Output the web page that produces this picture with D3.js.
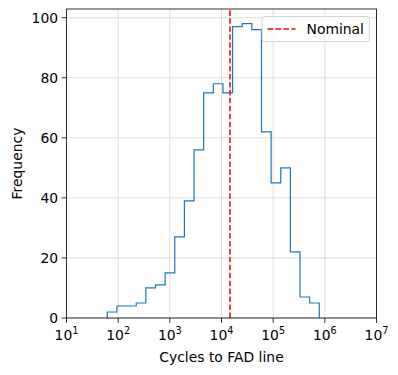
<!DOCTYPE html>
<html>
<head>
<meta charset="utf-8">
<script src="https://cdn.jsdelivr.net/npm/d3@7"></script>
<style>
  body { margin: 0; background: #fff; }
  svg text { font-family: "DejaVu Sans", sans-serif; fill: #000; }
</style>
</head>
<body>
<svg id="chart" width="398" height="375"></svg>
<script>
// histogram counts per log-spaced bin
const counts = [2, 4, 4, 5, 10, 11, 15, 27, 39, 56, 75, 78, 75, 97, 98, 96, 62, 45, 50, 22, 7, 5];
// log10 of first and last bin edge
const logLo = 1.79;
const logHi = 5.893;
const nominal = 14600;
const xTicks = [1, 2, 3, 4, 5, 6, 7];   // exponents
const yTicks = [0, 20, 40, 60, 80, 100];

const W = 398, H = 375;
const m = { left: 66.5, right: W - 376.5, top: 9, bottom: H - 318 };

const svg = d3.select("#chart");

const x = d3.scaleLog().domain([1e1, 1e7]).range([m.left, W - m.right]);
const y = d3.scaleLinear().domain([0, 102.9]).range([H - m.bottom, m.top]);

// bin edges, evenly spaced in log
const step = (logHi - logLo) / counts.length;
const edges = d3.range(counts.length + 1).map(i => Math.pow(10, logLo + i * step));

// grid
const grid = svg.append("g").attr("stroke", "#b0b0b0").attr("stroke-opacity", 0.5).attr("stroke-width", 0.8);
xTicks.forEach(e => {
  grid.append("line").attr("x1", x(10 ** e)).attr("x2", x(10 ** e))
    .attr("y1", y.range()[0]).attr("y2", y.range()[1]);
});
yTicks.forEach(v => {
  grid.append("line").attr("x1", x.range()[0]).attr("x2", x.range()[1])
    .attr("y1", y(v)).attr("y2", y(v));
});

// step outline of histogram
const pts = [[edges[0], 0]];
counts.forEach((c, i) => {
  pts.push([edges[i], c]);
  pts.push([edges[i + 1], c]);
});
pts.push([edges[edges.length - 1], 0]);

svg.append("path")
  .attr("d", d3.line().x(d => x(d[0])).y(d => y(d[1]))(pts))
  .attr("fill", "none")
  .attr("stroke", "#1f77b4")
  .attr("stroke-width", 1.2)
  .attr("stroke-linejoin", "miter");

// nominal line
svg.append("line")
  .attr("x1", x(nominal)).attr("x2", x(nominal))
  .attr("y1", y.range()[0]).attr("y2", y.range()[1])
  .attr("stroke", "red").attr("stroke-width", 1.5)
  .attr("stroke-dasharray", "5.55,2.4");

// frame
svg.append("rect")
  .attr("x", m.left).attr("y", m.top)
  .attr("width", W - m.left - m.right).attr("height", H - m.top - m.bottom)
  .attr("fill", "none").attr("stroke", "#000").attr("stroke-width", 0.8);

// x axis ticks and labels
const xg = svg.append("g");
xTicks.forEach(e => {
  const px = x(10 ** e);
  xg.append("line").attr("x1", px).attr("x2", px)
    .attr("y1", H - m.bottom).attr("y2", H - m.bottom + 4.9)
    .attr("stroke", "#000").attr("stroke-width", 0.8);
  const t = xg.append("text").attr("x", px).attr("y", H - m.bottom + 22)
    .attr("text-anchor", "middle").style("font-size", "13.9px");
  t.append("tspan").text("10");
  t.append("tspan").attr("dy", -6).style("font-size", "9.7px").text(e);
});

// y axis ticks and labels
const yg = svg.append("g");
yTicks.forEach(v => {
  yg.append("line").attr("x1", m.left - 4.9).attr("x2", m.left)
    .attr("y1", y(v)).attr("y2", y(v))
    .attr("stroke", "#000").attr("stroke-width", 0.8);
  yg.append("text").attr("x", m.left - 8.4).attr("y", y(v))
    .attr("dy", "0.35em").attr("text-anchor", "end")
    .style("font-size", "13.9px").text(v);
});

// axis titles
svg.append("text")
  .attr("x", (m.left + W - m.right) / 2).attr("y", 362)
  .attr("text-anchor", "middle").style("font-size", "13.9px")
  .text("Cycles to FAD line");
svg.append("text")
  .attr("transform", `translate(22,${(m.top + H - m.bottom) / 2}) rotate(-90)`)
  .attr("text-anchor", "middle").style("font-size", "13.9px")
  .text("Frequency");

// legend
const lg = svg.append("g");
lg.append("rect")
  .attr("x", 262).attr("y", 16.5).attr("width", 107.5).attr("height", 25)
  .attr("rx", 2.5)
  .attr("fill", "#fff").attr("fill-opacity", 0.8)
  .attr("stroke", "#cccccc").attr("stroke-width", 0.8);
lg.append("line")
  .attr("x1", 267.5).attr("x2", 295.5).attr("y1", 29).attr("y2", 29)
  .attr("stroke", "red").attr("stroke-width", 1.5)
  .attr("stroke-dasharray", "5.55,2.4");
lg.append("text")
  .attr("x", 306.5).attr("y", 29).attr("dy", "0.35em")
  .style("font-size", "13.9px").text("Nominal");
</script>
</body>
</html>
